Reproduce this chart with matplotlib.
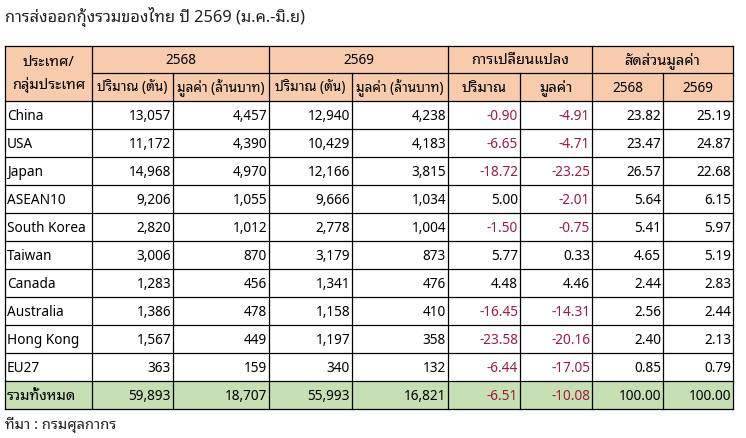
import matplotlib

matplotlib.use("Agg")
import matplotlib.pyplot as plt
from matplotlib.patches import Rectangle

plt.rcParams["font.family"] = ["Noto Sans", "Noto Sans Thai Looped", "DejaVu Sans"]

# ── data ──
title = "การส่งออกกุ้งรวมของไทย ปี 2569 (ม.ค.-มิ.ย)"
source = "ที่มา : กรมศุลกากร"

countries = ["China", "USA", "Japan", "ASEAN10", "South Korea",
             "Taiwan", "Canada", "Australia", "Hong Kong", "EU27"]
vol_2568 = [13057, 11172, 14968, 9206, 2820, 3006, 1283, 1386, 1567, 363]
val_2568 = [4457, 4390, 4970, 1055, 1012, 870, 456, 478, 449, 159]
vol_2569 = [12940, 10429, 12166, 9666, 2778, 3179, 1341, 1158, 1197, 340]
val_2569 = [4238, 4183, 3815, 1034, 1004, 873, 476, 410, 358, 132]
chg_vol = [-0.90, -6.65, -18.72, 5.00, -1.50, 5.77, 4.48, -16.45, -23.58, -6.44]
chg_val = [-4.91, -4.71, -23.25, -2.01, -0.75, 0.33, 4.46, -14.31, -20.16, -17.05]
share_2568 = [23.82, 23.47, 26.57, 5.64, 5.41, 4.65, 2.44, 2.56, 2.40, 0.85]
share_2569 = [25.19, 24.87, 22.68, 6.15, 5.97, 5.19, 2.83, 2.44, 2.13, 0.79]

total_label = "รวมทั้งหมด"
total_row = [59893, 18707, 55993, 16821, -6.51, -10.08, 100.00, 100.00]

head_col1 = "ประเทศ/\nกลุ่มประเทศ"
head_groups = ["2568", "2569", "การเปลี่ยนแปลง", "สัดส่วนมูลค่า"]
head_sub = ["ปริมาณ (ตัน)", "มูลค่า (ล้านบาท)", "ปริมาณ (ตัน)", "มูลค่า (ล้านบาท)",
            "ปริมาณ", "มูลค่า", "2568", "2569"]

# ── layout (pixels) ──
W, H = 746, 439
col_x = [5, 92, 173, 269, 352, 448, 520, 592, 663, 733]
y_top, y_h1, y_h2 = 46.5, 74, 102
row_h = 28.03
n = len(countries)
y_body_end = y_h2 + row_h * n
y_total_end = y_body_end + 28

HEAD_BG = "#F8CBAD"
TOTAL_BG = "#C6E0B4"
NEG = "#9E1B3F"
FS = 9.8
FS_TH = 10.6   # ข้อความไทยล้วน (ไม่มีวงเล็บ) ให้ใหญ่ขึ้นเล็กน้อย
LW = 0.9


def size_for(s):
    thai_only = not any(ch.isascii() and ch.isalnum() for ch in s)
    return FS_TH if (thai_only and "(" not in s) else FS


fig = plt.figure(figsize=(W / 100, H / 100), dpi=100)
ax = fig.add_axes([0, 0, 1, 1])
ax.set_xlim(0, W)
ax.set_ylim(H, 0)
ax.axis("off")

# backgrounds
ax.add_patch(Rectangle((col_x[0], y_top), col_x[-1] - col_x[0], y_h2 - y_top,
                       facecolor=HEAD_BG, edgecolor="none"))
ax.add_patch(Rectangle((col_x[0], y_body_end), col_x[-1] - col_x[0], y_total_end - y_body_end,
                       facecolor=TOTAL_BG, edgecolor="none"))

# horizontal lines
ax.plot([col_x[0], col_x[-1]], [y_top, y_top], color="black", lw=LW)
ax.plot([col_x[1], col_x[-1]], [y_h1, y_h1], color="black", lw=LW)
for i in range(n + 2):
    y = y_h2 + row_h * i if i <= n else y_total_end
    ax.plot([col_x[0], col_x[-1]], [y, y], color="black", lw=LW)

# vertical lines
for j, x in enumerate(col_x):
    if j in (0, 1, 3, 5, 7, 9):
        ax.plot([x, x], [y_top, y_total_end], color="black", lw=LW)
    else:
        ax.plot([x, x], [y_h1, y_total_end], color="black", lw=LW)

# title / source
ax.text(5, 17, title, fontsize=11.8, ha="left", va="center", color="#222222")
ax.text(5, 425, source, fontsize=FS_TH, ha="left", va="center", color="#222222")

# header
ax.text((col_x[0] + col_x[1]) / 2, (y_top + y_h2) / 2, head_col1, fontsize=FS_TH,
        ha="center", va="center", linespacing=1.6)
for g, label in enumerate(head_groups):
    x0, x1 = col_x[1 + 2 * g], col_x[3 + 2 * g]
    ax.text((x0 + x1) / 2, (y_top + y_h1) / 2, label, fontsize=size_for(label),
            ha="center", va="center")
for j, label in enumerate(head_sub):
    x0, x1 = col_x[1 + j], col_x[2 + j]
    ax.text((x0 + x1) / 2, (y_h1 + y_h2) / 2, label, fontsize=size_for(label),
            ha="center", va="center")


def fmt(j, v):
    return f"{v:,.0f}" if j < 4 else f"{v:.2f}"


def put_row(y, name, vals):
    ax.text(col_x[0] + 2, y, name, fontsize=size_for(name), ha="left", va="center")
    for j, v in enumerate(vals):
        color = NEG if (j in (4, 5) and v < 0) else "black"
        ax.text(col_x[2 + j] - 2, y, fmt(j, v), fontsize=FS, ha="right", va="center", color=color)


for i, c in enumerate(countries):
    vals = [vol_2568[i], val_2568[i], vol_2569[i], val_2569[i],
            chg_vol[i], chg_val[i], share_2568[i], share_2569[i]]
    put_row(y_h2 + row_h * (i + 0.5), c, vals)

put_row((y_body_end + y_total_end) / 2, total_label, total_row)

fig.savefig("out.png", dpi=100)
